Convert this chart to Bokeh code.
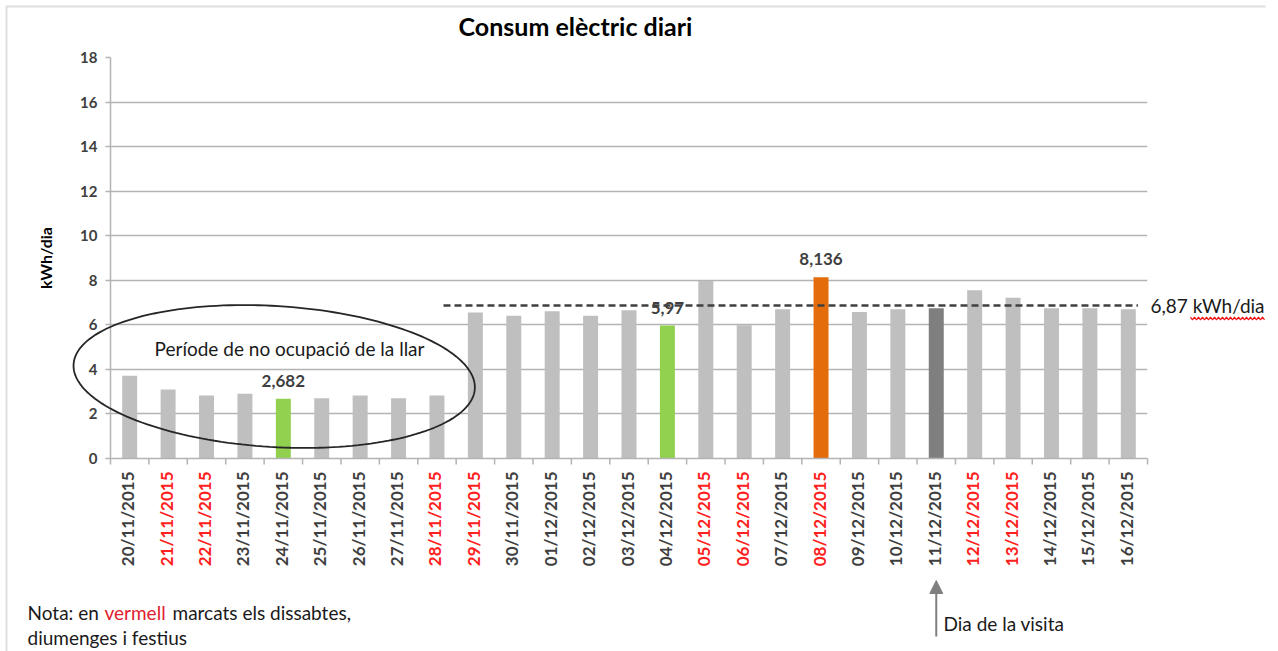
import math
import numpy as np
from bokeh.plotting import figure
from bokeh.models import (FactorRange, Range1d, FixedTicker, ColumnDataSource, LabelSet, Label,
                          Arrow, NormalHead)
from bokeh.embed import file_html
from bokeh.resources import INLINE
from bokeh.core.properties import value

# ---------------- data ----------------
dates = ["20/11/2015", "21/11/2015", "22/11/2015", "23/11/2015", "24/11/2015",
         "25/11/2015", "26/11/2015", "27/11/2015", "28/11/2015", "29/11/2015",
         "30/11/2015", "01/12/2015", "02/12/2015", "03/12/2015", "04/12/2015",
         "05/12/2015", "06/12/2015", "07/12/2015", "08/12/2015", "09/12/2015",
         "10/12/2015", "11/12/2015", "12/12/2015", "13/12/2015", "14/12/2015",
         "15/12/2015", "16/12/2015"]
consumption = [3.72, 3.10, 2.83, 2.91, 2.682, 2.71, 2.83, 2.71, 2.83, 6.55,
               6.41, 6.61, 6.41, 6.66, 5.97, 7.97, 5.98, 6.70, 8.136, 6.58,
               6.70, 6.75, 7.55, 7.22, 6.75, 6.75, 6.70]
red_days = ["21/11/2015", "22/11/2015", "28/11/2015", "29/11/2015", "05/12/2015",
            "06/12/2015", "08/12/2015", "12/12/2015", "13/12/2015"]
low_days = ["24/11/2015", "04/12/2015"]
peak_day = "08/12/2015"
visit_day = "11/12/2015"
labelled_days = ["24/11/2015", "04/12/2015", "08/12/2015"]
average_value = 6.87
average_from = "29/11/2015"
y_ticks = [0, 2, 4, 6, 8, 10, 12, 14, 16, 18]

title_text = "Consum elèctric diari"
y_label = "kWh/dia"
period_text = "Període de no ocupació de la llar"
average_text = "6,87 kWh/dia"
visit_text = "Dia de la visita"
note_parts = ["Nota: en ", "vermell", "marcats els dissabtes,"]
note_line2 = "diumenges i festius"

# ---------------- styles / layout ----------------
FONT = "Lato"
W, H = 1278, 651
ML, MR, MT, MB = 110, 131, 57, 193
PXX = (W - ML - MR) / len(dates)
PXY = (H - MT - MB) / 18.0


def dx(page_x):
    return (page_x - ML) / PXX


def dy(page_y):
    return (H - MB - page_y) / PXY


GRAY_BAR = "#bfbfbf"
GREEN = "#92d050"
ORANGE = "#e46c0a"
DARK = "#7f7f7f"
GRID = "#b3b3b3"
TXT = "#3f3f3f"
RED = "#ff2020"
INK = "#1a1a1a"
ABS = {"position": "absolute", "left": "0px", "top": "0px"}

bar_colors = []
for d in dates:
    if d in low_days:
        bar_colors.append(GREEN)
    elif d == peak_day:
        bar_colors.append(ORANGE)
    elif d == visit_day:
        bar_colors.append(DARK)
    else:
        bar_colors.append(GRAY_BAR)

# ================= main chart =================
p = figure(width=W, height=H, x_range=FactorRange(*dates), y_range=Range1d(0, 18),
           output_backend="svg", toolbar_location=None,
           min_border_left=ML, min_border_right=MR, min_border_top=MT, min_border_bottom=MB,
           background_fill_color="white", border_fill_color="white")
p.outline_line_color = None
p.styles = ABS

yax = p.yaxis[0]
yt = FixedTicker(ticks=y_ticks)
yax.ticker = yt
yax.axis_label = y_label
yax.axis_label_text_font = FONT
yax.axis_label_text_font_style = "bold"
yax.axis_label_text_font_size = "16px"
yax.axis_label_text_color = "#000000"
yax.axis_label_standoff = 22
yax.major_label_text_font = FONT
yax.major_label_text_font_style = "bold"
yax.major_label_text_font_size = "15px"
yax.major_label_text_color = TXT
yax.major_label_standoff = 8
yax.major_tick_out = 5
yax.major_tick_in = 0
yax.minor_tick_out = 0
yax.minor_tick_in = 0
yax.axis_line_color = GRID
yax.axis_line_width = 1.5
yax.major_tick_line_color = GRID
yax.major_tick_line_width = 1.5

p.ygrid.ticker = yt
p.ygrid.grid_line_color = GRID
p.ygrid.grid_line_width = 1.5
p.xgrid.visible = False

xax = p.xaxis[0]
xax.major_label_text_alpha = 0
xax.major_label_text_font_size = "1px"
xax.major_tick_line_color = None
xax.axis_line_color = GRID
xax.axis_line_width = 1.5

src = ColumnDataSource(dict(date=dates, value=consumption, color=bar_colors))
p.vbar(x="date", top="value", width=0.39, fill_color="color", line_color=None, source=src)

i0 = dates.index(average_from)
p.segment(x0=[i0 - 0.33], y0=[average_value], x1=[len(dates) - 0.25], y1=[average_value],
          line_color="#404040", line_width=2.5, line_dash="7 4")

dl_idx = [dates.index(d) for d in labelled_days]
dl_src = ColumnDataSource(dict(
    x=[i + 0.5 for i in dl_idx],
    y=[consumption[i] for i in dl_idx],
    text=[str(consumption[i]).replace(".", ",") for i in dl_idx]))
p.add_layout(LabelSet(x="x", y="y", text="text", source=dl_src, y_offset=18,
                      text_align="center", text_baseline="middle", text_font=value(FONT),
                      text_font_style="bold", text_font_size="17px", text_color=TXT))

# ================= overlay (same coordinates, whole canvas) =================
o = figure(width=W, height=H, x_range=Range1d(dx(0), dx(W)), y_range=Range1d(dy(H), dy(0)),
           output_backend="svg", toolbar_location=None, x_axis_location=None,
           y_axis_location=None, min_border=0, min_border_left=0, min_border_right=0,
           min_border_top=0, min_border_bottom=0,
           background_fill_color=None, border_fill_color=None)
o.outline_line_color = None
o.grid.visible = False
o.styles = ABS

# chart-area border (top and left edges)
o.line(x=[dx(6), dx(6), dx(1265)], y=[dy(651), dy(6), dy(6)], line_color="#dedede",
       line_width=2)

# tick marks between categories
bounds = list(range(len(dates) + 1))
o.segment(x0=bounds, y0=[0] * len(bounds), x1=bounds, y1=[dy(H - MB + 6)] * len(bounds),
          line_color=GRID, line_width=1.5)

# date labels, red for weekends / holidays
lab_src = ColumnDataSource(dict(
    x=[i + 0.5 for i in range(len(dates))],
    y=[0] * len(dates),
    text=dates,
    color=[RED if d in red_days else TXT for d in dates]))
o.add_layout(LabelSet(x="x", y="y", text="text", source=lab_src, y_offset=-13, x_offset=-2,
                      angle=math.pi / 2, text_align="right", text_baseline="middle",
                      text_font=value(FONT), text_font_style="bold", text_font_size="17px",
                      text_color="color"))

# average label and spell-check wave
o.add_layout(Label(x=len(dates), y=average_value, x_offset=3, text=average_text,
                   text_baseline="middle", text_align="left", text_font=FONT,
                   text_font_size="19px", text_color=INK))
wx = [dx(1190 + 2 * k) for k in range(38)]
wy = [dy(318 + (1.3 if k % 2 else -1.3)) for k in range(38)]
o.line(x=wx, y=wy, line_color="#ee1111", line_width=1.2)

# ellipse around the empty period
cx, cy = 273.7, 376.0
a, b, th = 201.0, 70.5, math.radians(-3.5)
t = np.linspace(0, 2 * np.pi, 181)
ex = cx + a * np.cos(t) * math.cos(th) - b * np.sin(t) * math.sin(th)
ey = cy - (a * np.cos(t) * math.sin(th) + b * np.sin(t) * math.cos(th))
o.line(x=[dx(v) for v in ex], y=[dy(v) for v in ey], line_color="#262626", line_width=1.8)
o.add_layout(Label(x=dx(289), y=dy(348), text=period_text, text_align="center",
                   text_baseline="middle", text_font=FONT, text_font_size="19px",
                   text_color=INK))

# title
o.add_layout(Label(x=dx(575), y=dy(25), text=title_text, text_align="center",
                   text_baseline="middle", text_font=FONT, text_font_style="bold",
                   text_font_size="25px", text_color="#000000"))

# visit arrow
vx = dates.index(visit_day) + 0.5
o.add_layout(Arrow(x_start=vx, y_start=dy(636), x_end=vx, y_end=dy(580),
                   line_color="#7f7f7f", line_width=2,
                   end=NormalHead(size=13, fill_color="#7f7f7f", line_color="#7f7f7f")))
o.add_layout(Label(x=dx(943), y=dy(623), text=visit_text, text_baseline="middle",
                   text_font=FONT, text_font_size="19px", text_color=INK))

# note
note_x = [27, 104, 172]
note_c = [INK, "#e02030", INK]
for nx, nt, nc in zip(note_x, note_parts, note_c):
    o.add_layout(Label(x=dx(nx), y=dy(612), text=nt, text_baseline="middle",
                       text_font=FONT, text_font_size="19px", text_color=nc))
o.add_layout(Label(x=dx(27), y=dy(637), text=note_line2, text_baseline="middle",
                   text_font=FONT, text_font_size="19px", text_color=INK))

open("out.html", "w").write(file_html((p, o), INLINE))
